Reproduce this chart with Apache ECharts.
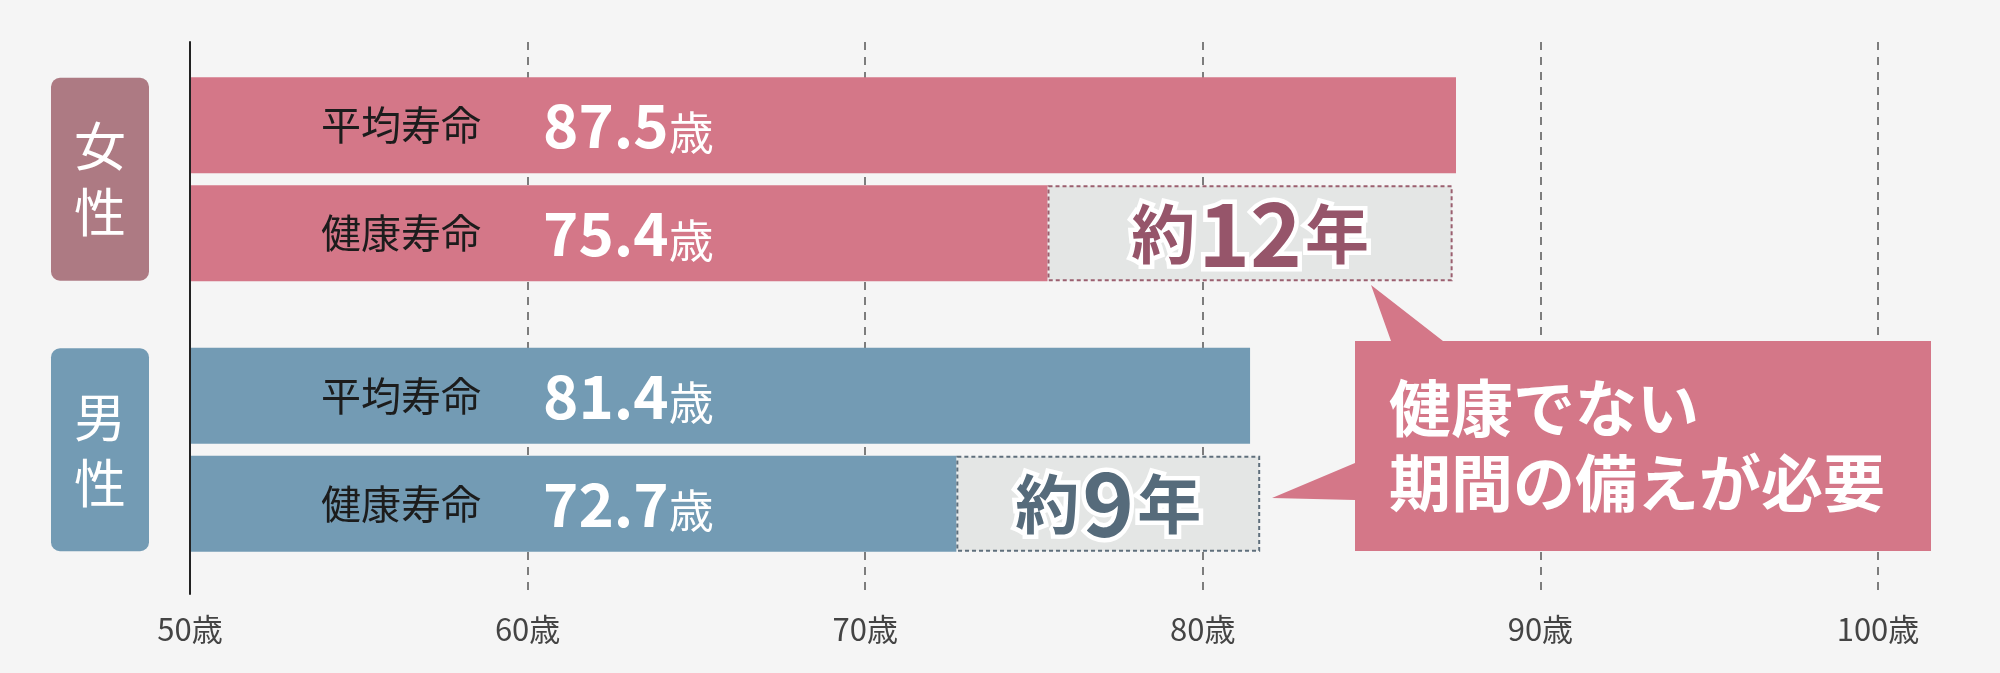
<!DOCTYPE html>
<html>
<head>
<meta charset="utf-8">
<script src="https://cdn.jsdelivr.net/npm/echarts@6/dist/echarts.min.js"></script>
<style>
html,body{margin:0;padding:0;background:#f5f5f5;}
#chart{width:2000px;height:673px;}
</style>
</head>
<body>
<div id="chart"></div>
<script>
// ---- data ----
const categories = ['女性', '男性'];
const avgLife = [87.5, 81.4];          // 平均寿命
const healthyLife = [75.4, 72.7];      // 健康寿命
const gapYears = [12, 9];              // 約12年 / 約9年
const xTicks = [50, 60, 70, 80, 90, 100];
const avgLabel = '平均寿命';
const healthyLabel = '健康寿命';
const calloutLines = ['健康でない', '期間の備えが必要'];

// ---- styles ----
const barColors = ['#d47788', '#739bb4'];
const genderColors = ['#ad7a83', '#739bb4'];
const gapTextColors = ['#96556a', '#566b7b'];
const gapBorderColors = ['#9b5f6f', '#5f6f7c'];
const FONT = '"Noto Sans CJK JP", "Noto Sans", sans-serif';

const chart = echarts.init(document.getElementById('chart'), null, {renderer: 'canvas'});

function valueLabel(name) {
  return {
    show: true,
    position: 'insideLeft',
    distance: 131,
    formatter: p => '{a|' + name + '}{v|' + p.value + '}{u|歳}',
    rich: {
      a: {fontSize: 40, color: '#1c1c1c', width: 222, fontFamily: FONT, lineHeight: 60},
      v: {fontSize: 60, fontWeight: 'bold', color: '#ffffff', fontFamily: FONT, lineHeight: 60},
      u: {fontSize: 45, color: '#ffffff', fontFamily: FONT, lineHeight: 50, verticalAlign: 'bottom'}
    }
  };
}

const avgData = avgLife.map((v, i) => ({value: v, itemStyle: {color: barColors[i]}}));
const healthyData = healthyLife.map((v, i) => ({value: v, itemStyle: {color: barColors[i]}}));
const gapData = gapYears.map((v, i) => ({
  value: v,
  itemStyle: {color: '#e4e6e5', borderColor: gapBorderColors[i], borderWidth: 2, borderType: [4, 3]},
  label: {
    rich: {
      k: {fontSize: 64, fontWeight: 'bold', color: gapTextColors[i], textBorderColor: '#fff', textBorderWidth: 9, fontFamily: FONT, lineHeight: 80},
      n: {fontSize: 88, fontWeight: 'bold', color: gapTextColors[i], textBorderColor: '#fff', textBorderWidth: 9, fontFamily: FONT, lineHeight: 80, padding: [0, 3, 0, 3]}
    }
  }
}));

const option = {
  backgroundColor: '#f5f5f5',
  animation: false,
  textStyle: {fontFamily: FONT},
  grid: [
    {left: 190, right: 122, top: 42, bottom: 79, containLabel: false},
    {left: 190, right: 122, top: 44, bottom: 88, containLabel: false}
  ],
  xAxis: [
    {
      gridIndex: 0, type: 'value', min: 50, max: 100, interval: 10,
      axisLine: {show: false}, axisTick: {show: false},
      splitLine: {show: true, lineStyle: {color: '#555', width: 1.5, type: [8, 7]}},
      axisLabel: {margin: 20, fontSize: 31, color: '#444', fontFamily: FONT,
        formatter: v => xTicks.indexOf(v) >= 0 ? v + '歳' : ''}
    },
    {gridIndex: 1, type: 'value', min: 50, max: 100, interval: 10, show: false, splitLine: {show: false}}
  ],
  yAxis: [
    {
      gridIndex: 0, type: 'value', min: 0, max: 1, z: 5,
      axisLine: {show: true, lineStyle: {color: '#222', width: 2}},
      axisTick: {show: false}, axisLabel: {show: false}, splitLine: {show: false}
    },
    {
      gridIndex: 1, type: 'category', inverse: true,
      axisLine: {show: false}, axisTick: {show: false}, splitLine: {show: false},
      axisLabel: {
        margin: 41, fontSize: 52, color: '#ffffff', fontFamily: FONT, lineHeight: 66,
        formatter: v => v.split('').join('\n')
      },
      data: categories.map((c, i) => ({
        value: c,
        textStyle: {backgroundColor: genderColors[i], borderRadius: 9, padding: [35, 23, 36, 23]}
      }))
    }
  ],
  series: [
    {
      name: avgLabel, type: 'bar', xAxisIndex: 1, yAxisIndex: 1, stack: 'avg',
      barWidth: 96, barGap: '12.5%', data: avgData, label: valueLabel(avgLabel), z: 2
    },
    {
      name: healthyLabel, type: 'bar', xAxisIndex: 1, yAxisIndex: 1, stack: 'healthy',
      barWidth: 96, barGap: '12.5%', data: healthyData, label: valueLabel(healthyLabel), z: 2
    },
    {
      name: 'gap', type: 'bar', xAxisIndex: 1, yAxisIndex: 1, stack: 'healthy',
      barWidth: 96, barGap: '12.5%', data: gapData, z: 2,
      label: {
        show: true, position: 'inside',
        formatter: p => '{k|約}{n|' + p.value + '}{k|年}'
      }
    }
  ],
  graphic: [
    {
      type: 'polygon', z: 10,
      shape: {points: [
        [1355, 341], [1391, 341], [1371, 285], [1443, 341], [1931, 341],
        [1931, 551], [1355, 551], [1355, 500], [1272, 498], [1355, 463]
      ]},
      style: {fill: '#d47788'}
    },
    {
      type: 'text', z: 11, x: 1389, y: 371,
      style: {
        text: calloutLines.join('\n'), fill: '#ffffff',
        font: 'bold 62px ' + FONT, lineHeight: 75, verticalAlign: 'top', align: 'left'
      }
    }
  ]
};
chart.setOption(option);
</script>
</body>
</html>
